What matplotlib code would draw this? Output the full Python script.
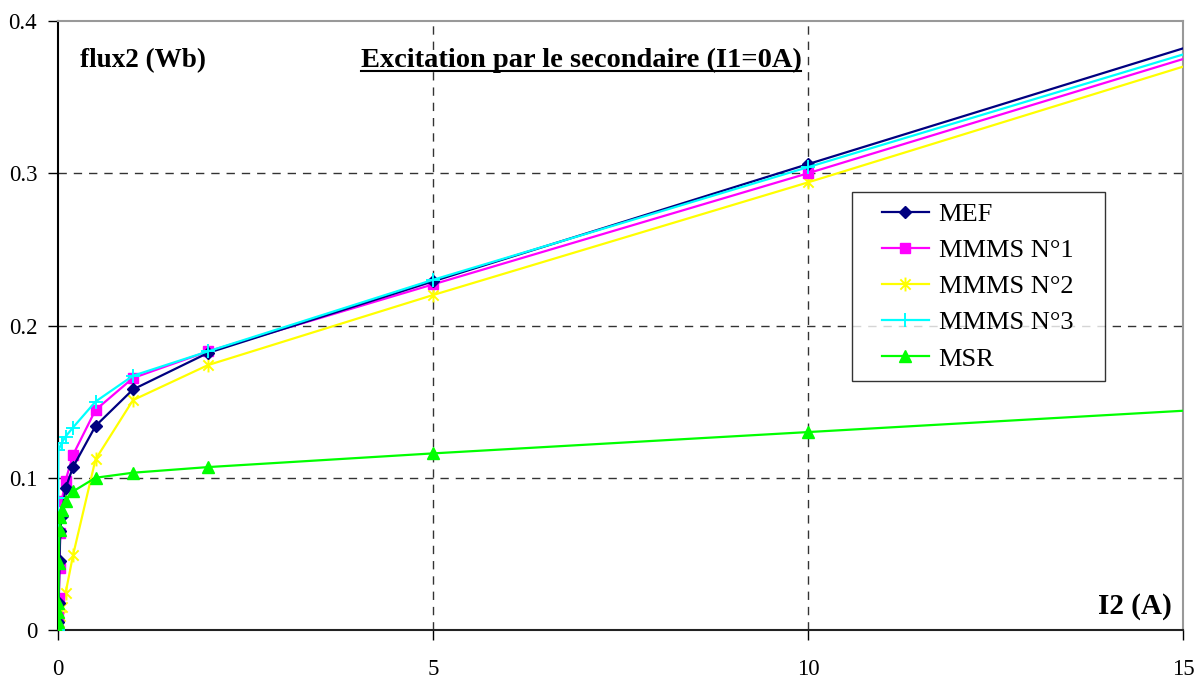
import matplotlib
matplotlib.use("Agg")
import matplotlib.pyplot as plt
from matplotlib.lines import Line2D
from matplotlib.legend_handler import HandlerLine2D
from matplotlib.path import Path

plt.rcParams['font.family'] = ['Liberation Serif', 'DejaVu Serif']

# Secondary excitation current I2 (A) and resulting flux2 (Wb) per model
mef_x = [0, 0.005, 0.01, 0.02, 0.03, 0.05, 0.1, 0.2, 0.5, 1, 2, 5, 10, 20]
mef_y = [0, 0.005, 0.018, 0.045, 0.065, 0.075, 0.093, 0.107, 0.134, 0.158, 0.182, 0.229, 0.306, 0.458]

mmms1_x = [0, 0.005, 0.01, 0.02, 0.03, 0.05, 0.1, 0.2, 0.5, 1, 2, 5, 10, 20]
mmms1_y = [0, 0.0085, 0.021, 0.041, 0.064, 0.085, 0.098, 0.115, 0.1445, 0.1655, 0.183, 0.227, 0.300, 0.450]

mmms2_x = [0, 0.01, 0.02, 0.05, 0.1, 0.2, 0.5, 1, 2, 5, 10, 20]
mmms2_y = [0, 0.005, 0.009, 0.015, 0.024, 0.049, 0.112, 0.151, 0.174, 0.220, 0.294, 0.446]

mmms3_x = [0, 0.001, 0.005, 0.05, 0.1, 0.2, 0.5, 1, 2, 5, 10, 20]
mmms3_y = [0, 0.087, 0.118, 0.123, 0.127, 0.133, 0.150, 0.167, 0.183, 0.230, 0.304, 0.452]

msr_x = [0, 0.001, 0.002, 0.005, 0.01, 0.02, 0.03, 0.05, 0.1, 0.2, 0.5, 1, 2, 5, 10, 20]
msr_y = [0, 0.005, 0.012, 0.018, 0.044, 0.066, 0.074, 0.079, 0.085, 0.091, 0.100, 0.1033, 0.107, 0.116, 0.130, 0.158]

series_labels = ["MEF", "MMMS N°1", "MMMS N°2", "MMMS N°3", "MSR"]
x_ticks = [0, 5, 10, 15]
y_ticks = [0, 0.1, 0.2, 0.3, 0.4]
y_tick_labels = ["0", "0.1", "0.2", "0.3", "0.4"]

# asterisk marker: an x with a vertical stroke
star = Path([(-1, -1), (1, 1), (-1, 1), (1, -1), (0, -1.35), (0, 1.35)],
            [Path.MOVETO, Path.LINETO, Path.MOVETO, Path.LINETO, Path.MOVETO, Path.LINETO])

W, H = 1204, 678
fig = plt.figure(figsize=(W / 100, H / 100), dpi=100)
ax = fig.add_axes([58 / W, 1 - 630 / H, (1183 - 58) / W, (630 - 21) / H])

ax.plot(mef_x, mef_y, color='#000080', lw=1.6, marker='D', ms=6.5, label=series_labels[0], zorder=5)
ax.plot(mmms1_x, mmms1_y, color='#FF00FF', lw=1.6, marker='s', ms=7, label=series_labels[1], zorder=4)
ax.plot(mmms2_x, mmms2_y, color='#FFFF00', lw=1.6, marker=star, ms=10, mew=1.4,
        fillstyle='none', label=series_labels[2], zorder=3)
ax.plot(mmms3_x, mmms3_y, color='#00FFFF', lw=1.6, marker='+', ms=10, mew=1.4, label=series_labels[3], zorder=6)
ax.plot(msr_x, msr_y, color='#00FF00', lw=1.6, marker='^', ms=8, label=series_labels[4], zorder=7)

ax.set_xlim(0, 15)
ax.set_ylim(0, 0.4)
ax.set_xticks(x_ticks)
ax.set_yticks(y_ticks)
ax.set_yticklabels(y_tick_labels)
ax.tick_params(axis='both', direction='out', length=7, width=1, labelsize=16.5)
ax.tick_params(axis='x', pad=14)
ax.tick_params(axis='y', pad=8)

# dashed grid on the inner ticks only
for yv in y_ticks[1:-1]:
    ax.axhline(yv, color='#333333', lw=1, ls=(0, (6, 5)), zorder=1)
for xv in x_ticks[1:-1]:
    ax.axvline(xv, color='#333333', lw=1, ls=(0, (6, 5)), zorder=1)

ax.spines['left'].set_color('black')
ax.spines['bottom'].set_color('#222222')
ax.spines['top'].set_color('#999999')
ax.spines['right'].set_color('#999999')
for s in ax.spines.values():
    s.set_linewidth(1.5)

fig.text(80 / W, 1 - 61 / H, 'flux2 (Wb)', fontsize=19.5, fontweight='bold', va='center', ha='left')
title = fig.text(581 / W, 1 - 60 / H, 'Excitation par le secondaire (I1=0A)',
                 fontsize=20.5, fontweight='bold', va='center', ha='center')
fig.text(1172 / W, 1 - 607 / H, 'I2 (A)', fontsize=21, fontweight='bold', va='center', ha='right')

# legend box spanning a fixed width, handles inset from the frame
lx0 = (852 - 58) / 1125
lx1 = (1105 - 58) / 1125
ly1 = (630 - 192) / 609
leg = ax.legend(loc='upper left', bbox_to_anchor=(lx0, ly1 - 0.5, lx1 - lx0, 0.5),
                mode='expand', fontsize=19, frameon=True, fancybox=False, edgecolor='black',
                handlelength=2.5, handletextpad=0.38, labelspacing=0.48,
                borderpad=0.4, borderaxespad=0,
                handler_map={Line2D: HandlerLine2D(xpad=0.75)})
leg.get_frame().set_linewidth(1.0)

# underline the title
fig.canvas.draw()
bb = title.get_window_extent().transformed(fig.transFigure.inverted())
uy = bb.y0 + 0.002
fig.add_artist(Line2D([bb.x0, bb.x1], [uy, uy], color='black', lw=1.5, transform=fig.transFigure))

fig.savefig('out.png', dpi=100)
